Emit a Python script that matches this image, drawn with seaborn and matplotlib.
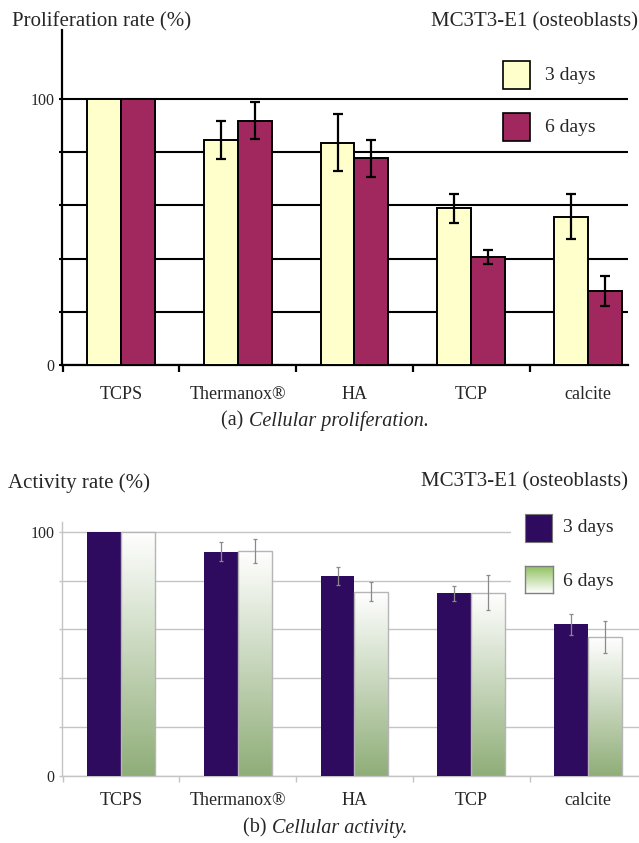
import numpy as np
import pandas as pd
import matplotlib
matplotlib.use("Agg")
import matplotlib.pyplot as plt
from matplotlib.patches import Rectangle
import seaborn as sns

# ---- data -------------------------------------------------------------
materials = ["TCPS", "Thermanox®", "HA", "TCP", "calcite"]
periods = ["3 days", "6 days"]

prolif_3d = [100, 84.6, 83.6, 58.9, 55.8]
prolif_3d_err = [0, 7.2, 10.8, 5.5, 8.5]
prolif_6d = [100, 91.8, 77.7, 40.5, 27.8]
prolif_6d_err = [0, 7.0, 7.0, 2.7, 5.6]

activ_3d = [100, 91.8, 82.0, 74.8, 62.0]
activ_3d_err = [0, 4.0, 3.7, 3.0, 4.3]
activ_6d = [100, 92.1, 75.4, 75.0, 56.8]
activ_6d_err = [0, 5.0, 3.9, 7.2, 6.4]

y_ticks = [0, 20, 40, 60, 80, 100]
y_ticklabels = ["0", "", "", "", "", "100"]


def long_frame(v3, v6):
    return pd.DataFrame({
        "material": materials * 2,
        "period": [periods[0]] * len(materials) + [periods[1]] * len(materials),
        "rate": list(v3) + list(v6),
    })


prolif_df = long_frame(prolif_3d, prolif_6d)
activ_df = long_frame(activ_3d, activ_6d)

# ---- style ------------------------------------------------------------
sns.set_theme(style="white")
plt.rcParams["font.family"] = ["Liberation Serif", "DejaVu Serif"]

W, H = 639, 843
fig = plt.figure(figsize=(W / 100, H / 100), dpi=100)
fig.patch.set_facecolor("white")


def fx(px):
    return px / W


def fy(py):
    return 1 - py / H


def axes_rect(left, top, right, bottom):
    return [fx(left), fy(bottom), (right - left) / W, (bottom - top) / H]


YELLOW = "#ffffcc"
MAGENTA = "#a0285f"
PURPLE = "#2e0b5e"
GREEN_DARK = np.array([0.56, 0.68, 0.47])
GRID_GREY = "#c4c4c4"

# ---- (a) proliferation ------------------------------------------------
ax1 = fig.add_axes(axes_rect(62, 29.8, 628, 365))
sns.barplot(data=prolif_df, x="material", y="rate", hue="period",
            order=materials, hue_order=periods,
            palette=[YELLOW, MAGENTA], width=0.58, gap=0,
            errorbar=None, legend=False, edgecolor="black",
            linewidth=1.4, saturation=1, zorder=3, ax=ax1)

for cont, err in zip(ax1.containers, [prolif_3d_err, prolif_6d_err]):
    for bar, e in zip(cont, err):
        if e <= 0:
            continue
        xc = bar.get_x() + bar.get_width() / 2
        ax1.errorbar(xc, bar.get_height(), yerr=e, color="black",
                     lw=1.6, capsize=3.6, capthick=1.6, zorder=5)

ax1.set_xlim(-0.505, 4.343)
ax1.set_ylim(0, 126)
ax1.set_yticks(y_ticks)
ax1.set_yticklabels(y_ticklabels)
ax1.yaxis.grid(True, color="black", lw=1.5)
ax1.xaxis.grid(False)
ax1.set_axisbelow(True)
for s in ["top", "right"]:
    ax1.spines[s].set_visible(False)
for s in ["left", "bottom"]:
    ax1.spines[s].set_color("black")
    ax1.spines[s].set_linewidth(1.6)
ax1.set_xlabel("")
ax1.set_ylabel("")
ax1.tick_params(axis="y", length=2.5, width=1.5, color="black",
                labelsize=11.5, pad=3, direction="out", left=True)
ax1.tick_params(axis="x", which="major", length=0, labelsize=13, pad=15)
ax1.set_xticks(np.arange(len(materials)) - 0.5, minor=True)
ax1.tick_params(axis="x", which="minor", length=5, width=1.6,
                color="black", direction="out", bottom=True)

fig.text(fx(12), fy(22), "Proliferation rate (%)", fontsize=15,
         ha="left", va="center")
fig.text(fx(638), fy(22), "MC3T3-E1 (osteoblasts)", fontsize=15,
         ha="right", va="center")

# legend (a)
for (top, col, lab) in [(61, YELLOW, periods[0]), (113, MAGENTA, periods[1])]:
    fig.patches.append(Rectangle((fx(503), fy(top + 28)), 27 / W, 28 / H,
                                 transform=fig.transFigure, facecolor=col,
                                 edgecolor="black", lw=1.2, zorder=6))
    fig.text(fx(545), fy(top + 14), lab, fontsize=14, ha="left",
             va="center", zorder=6)

# ---- (b) activity -----------------------------------------------------
ax2 = fig.add_axes(axes_rect(62, 521.7, 639, 775.7))
sns.barplot(data=activ_df, x="material", y="rate", hue="period",
            order=materials, hue_order=periods,
            palette=[PURPLE, "white"], width=0.58, gap=0,
            errorbar=None, legend=False, linewidth=0, saturation=1,
            zorder=3, ax=ax2)

n_grad = 256
grad_t = np.linspace(0, 1, n_grad)[:, None]
bar_grad = (GREEN_DARK[None, :] * (1 - grad_t) + np.ones(3)[None, :] * grad_t)
bar_grad = bar_grad[:, None, :]

for bar in ax2.containers[1]:
    x0, w, h = bar.get_x(), bar.get_width(), bar.get_height()
    ax2.imshow(bar_grad, extent=[x0, x0 + w, 0, h], origin="lower",
               aspect="auto", zorder=3.5, interpolation="bilinear")
    bar.set_facecolor("none")
    bar.set_edgecolor("#b5b5b5")
    bar.set_linewidth(1.0)
    bar.set_zorder(4)

for cont, err in zip(ax2.containers, [activ_3d_err, activ_6d_err]):
    for bar, e in zip(cont, err):
        if e <= 0:
            continue
        xc = bar.get_x() + bar.get_width() / 2
        ax2.errorbar(xc, bar.get_height(), yerr=e, color="#8a8a8a",
                     lw=0.9, capsize=1.5, capthick=0.9, zorder=5)

ax2.set_xlim(-0.505, 4.437)
ax2.set_ylim(0, 104.1)
ax2.set_yticks(y_ticks)
ax2.set_yticklabels(y_ticklabels)
ax2.yaxis.grid(True, color=GRID_GREY, lw=1.0)
ax2.xaxis.grid(False)
ax2.set_axisbelow(True)
for s in ["top", "right"]:
    ax2.spines[s].set_visible(False)
for s in ["left", "bottom"]:
    ax2.spines[s].set_color(GRID_GREY)
    ax2.spines[s].set_linewidth(1.0)
ax2.set_xlabel("")
ax2.set_ylabel("")
ax2.tick_params(axis="y", length=2.5, width=1.0, color=GRID_GREY,
                labelsize=11.5, pad=3, direction="out", left=True)
ax2.tick_params(axis="x", which="major", length=0, labelsize=13, pad=12)
ax2.set_xticks(np.arange(len(materials)) - 0.5, minor=True)
ax2.tick_params(axis="x", which="minor", length=4, width=1.0,
                color=GRID_GREY, direction="out", bottom=True)

fig.text(fx(8), fy(483), "Activity rate (%)", fontsize=15,
         ha="left", va="center")
fig.text(fx(628), fy(482), "MC3T3-E1 (osteoblasts)", fontsize=15,
         ha="right", va="center")

# legend (b): white panel over the gridlines
fig.patches.append(Rectangle((fx(511), fy(600)), (639 - 511) / W, 95 / H,
                             transform=fig.transFigure, facecolor="white",
                             edgecolor="none", zorder=5))
fig.patches.append(Rectangle((fx(525), fy(542)), 27 / W, 28 / H,
                             transform=fig.transFigure, facecolor=PURPLE,
                             edgecolor="#777777", lw=0.8, zorder=6))
fig.text(fx(563), fy(528), periods[0], fontsize=14, ha="left",
         va="center", zorder=7)

swatch = fig.add_axes(axes_rect(525, 566, 553, 593), zorder=8)
swatch_green = np.array([0.55, 0.75, 0.35])
sw_grad = (np.ones(3)[None, :] * (1 - grad_t) + swatch_green[None, :] * grad_t)
swatch.imshow(sw_grad[:, None, :], origin="lower", aspect="auto",
              extent=[0, 1, 0, 1], interpolation="bilinear")
swatch.set_xticks([])
swatch.set_yticks([])
for s in swatch.spines.values():
    s.set_color("#808080")
    s.set_linewidth(1.0)
fig.text(fx(563), fy(581), periods[1], fontsize=14, ha="left",
         va="center", zorder=7)

# ---- captions ---------------------------------------------------------
def caption(label, body, cx, cy):
    t1 = fig.text(fx(cx), fy(cy), label + " ", fontsize=14.5,
                  ha="left", va="center")
    t2 = fig.text(fx(cx), fy(cy), body, fontsize=14.5, style="italic",
                  ha="left", va="center")
    fig.canvas.draw()
    r = fig.canvas.get_renderer()
    w1 = t1.get_window_extent(r).width
    w2 = t2.get_window_extent(r).width
    left = cx - (w1 + w2) / 2
    t1.set_x(fx(left))
    t2.set_x(fx(left + w1))


caption("(a)", "Cellular proliferation.", 325, 421)
caption("(b)", "Cellular activity.", 325, 828)

fig.savefig("out.png", dpi=100, facecolor="white")
